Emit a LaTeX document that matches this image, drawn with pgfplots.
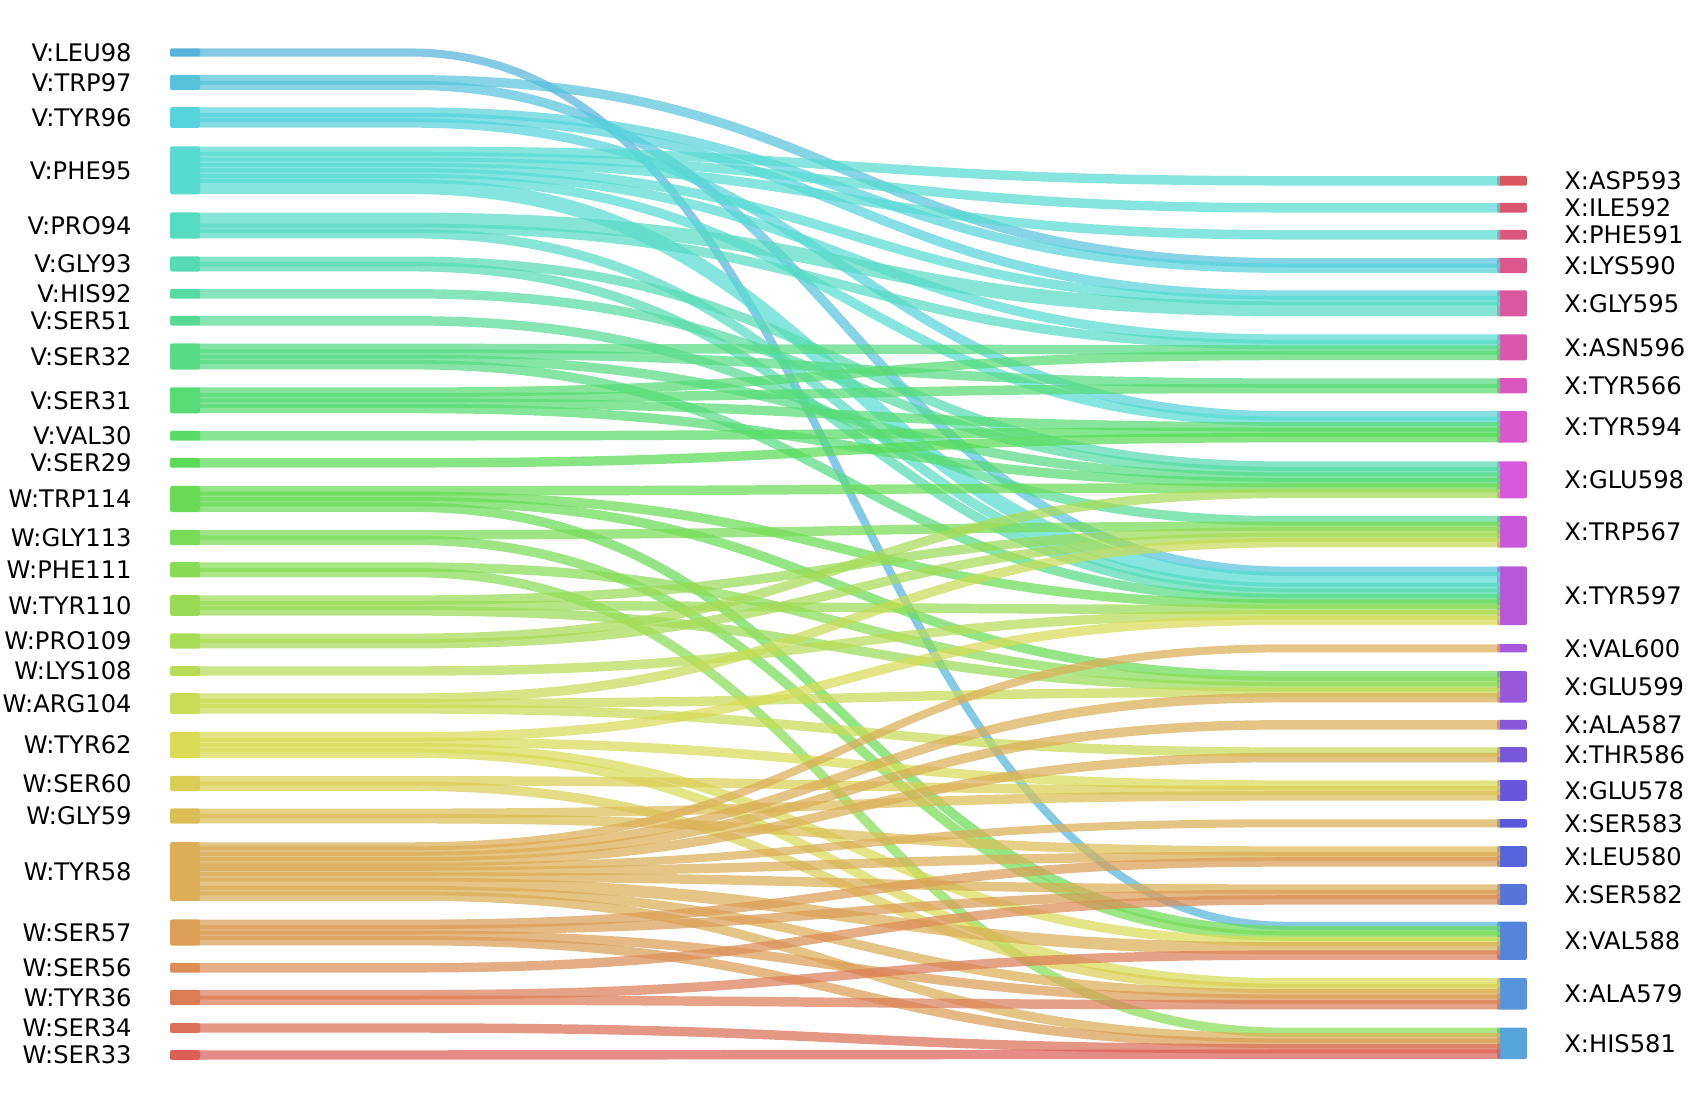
\documentclass[border=0pt]{standalone}
\usepackage{pgfplots}
\pgfplotsset{compat=1.18}
\usepackage{pgfplotstable}
\usepackage{fontspec}
\setmainfont{DejaVu Sans}

% hls palette (l=.6, s=.65) over the 50 residues, as hsb
\pgfplotsforeachungrouped \i in {0,...,49}{%
  \pgfmathsetmacro\hue{(3.6+7.2*\i)/360}%
  \edef\tmp{\noexpand\definecolor{pal\i}{hsb}{\hue,0.6047,0.86}}\tmp}

\newcommand\lbl{\fontsize{12.1}{14}\selectfont}
\def\upx{5.45}% px per unit of flow

% left column: id, label, centre (px from top)
\pgfplotstableread{
id name y
1 V:LEU98 52.5
2 V:TRP97 82.5
3 V:TYR96 117.5
4 V:PHE95 170.3
5 V:PRO94 225.5
6 V:GLY93 264
7 V:HIS92 293.8
8 V:SER51 320.8
9 V:SER32 356.5
10 V:SER31 400.3
11 V:VAL30 435.8
12 V:SER29 462.8
13 W:TRP114 499
14 W:GLY113 537.5
15 W:PHE111 569.8
16 W:TYR110 605.5
17 W:PRO109 641
18 W:LYS108 671
19 W:ARG104 703.5
20 W:TYR62 745
21 W:SER60 783.5
22 W:GLY59 816
23 W:TYR58 871.5
24 W:SER57 932.5
25 W:SER56 967.8
26 W:TYR36 997.5
27 W:SER34 1028
28 W:SER33 1055
}\leftnodes

% right column
\pgfplotstableread{
id name y
1 X:ASP593 180.8
2 X:ILE592 207.8
3 X:PHE591 234.8
4 X:LYS590 265.5
5 X:GLY595 303.3
6 X:ASN596 347.3
7 X:TYR566 385.8
8 X:TYR594 426.8
9 X:GLU598 479.8
10 X:TRP567 531.8
11 X:TYR597 595.8
12 X:VAL600 648.3
13 X:GLU599 686.8
14 X:ALA587 724.8
15 X:THR586 754.8
16 X:GLU578 790.5
17 X:SER583 823.3
18 X:LEU580 856.5
19 X:SER582 894.5
20 X:VAL588 940.8
21 X:ALA579 993.8
22 X:HIS581 1043.3
}\rightnodes

% links: source id, target id, value (sorted by source, then target)
\pgfplotstableread{
s t v
1 20 0.75
2 4 1
2 11 1
3 4 1
3 5 1
3 8 1
4 1 1
4 2 1
4 3 1
4 5 1
4 6 1
4 8 1
4 11 2
5 5 2
5 6 1
5 11 1
6 9 1
6 11 1
7 9 1
8 10 1
9 6 1
9 7 1
9 9 1
9 11 1
10 6 1
10 7 1
10 8 1
10 9 1
11 8 1
12 8 1
13 9 1
13 11 1
13 13 1
13 20 1
14 10 1
14 20 1
15 13 1
15 22 1
16 10 1
16 11 1
16 13 1
17 9 1
17 10 1
18 11 1
19 10 1
19 13 1
19 15 1
20 11 1
20 16 1
20 20 1
20 21 1
21 16 1
21 21 1
22 16 1
22 18 1
23 12 0.75
23 13 1
23 14 1
23 15 1
23 17 0.75
23 18 1
23 19 1
23 20 1.5
23 21 1
23 22 1
24 18 1
24 19 1
24 21 1
24 22 1
25 19 1
26 20 1
26 21 1
27 22 1
28 22 1
}\links

\begin{document}
\begin{tikzpicture}
% node totals
\pgfplotstablegetrowsof{\links}
\pgfmathtruncatemacro\lastlink{\pgfplotsretval-1}
\foreach \i in {1,...,28}{\expandafter\xdef\csname sumL\i\endcsname{0}}
\foreach \i in {1,...,22}{\expandafter\xdef\csname sumR\i\endcsname{0}}
\foreach \k in {0,...,\lastlink}{
  \pgfplotstablegetelem{\k}{s}\of\links \edef\ls{\pgfplotsretval}
  \pgfplotstablegetelem{\k}{t}\of\links \edef\lt{\pgfplotsretval}
  \pgfplotstablegetelem{\k}{v}\of\links \edef\lv{\pgfplotsretval}
  \edef\osum{\csname sumL\ls\endcsname}
  \pgfmathsetmacro\nsum{\osum+\lv}
  \expandafter\xdef\csname sumL\ls\endcsname{\nsum}
  \edef\osum{\csname sumR\lt\endcsname}
  \pgfmathsetmacro\nsum{\osum+\lv}
  \expandafter\xdef\csname sumR\lt\endcsname{\nsum}
}
% stacking cursors start at node tops
\foreach \r in {0,...,27}{
  \pgfplotstablegetelem{\r}{id}\of\leftnodes \edef\nid{\pgfplotsretval}
  \pgfplotstablegetelem{\r}{y}\of\leftnodes \edef\ny{\pgfplotsretval}
  \edef\nh{\csname sumL\nid\endcsname}
  \pgfmathsetmacro\ntop{\ny-\nh*\upx/2}
  \expandafter\xdef\csname curL\nid\endcsname{\ntop}
}
\foreach \r in {0,...,21}{
  \pgfplotstablegetelem{\r}{id}\of\rightnodes \edef\nid{\pgfplotsretval}
  \pgfplotstablegetelem{\r}{y}\of\rightnodes \edef\ny{\pgfplotsretval}
  \edef\nh{\csname sumR\nid\endcsname}
  \pgfmathsetmacro\ntop{\ny-\nh*\upx/2}
  \expandafter\xdef\csname curR\nid\endcsname{\ntop}
}

\begin{axis}[name=ax, width=844pt, height=554pt, scale only axis,
  hide axis, clip=false, xmin=0, xmax=1688, ymin=0, ymax=1108, y dir=reverse]

% left bars and labels
\foreach \r in {0,...,27}{
  \pgfplotstablegetelem{\r}{id}\of\leftnodes \edef\nid{\pgfplotsretval}
  \pgfplotstablegetelem{\r}{name}\of\leftnodes \edef\nname{\pgfplotsretval}
  \pgfplotstablegetelem{\r}{y}\of\leftnodes \edef\ny{\pgfplotsretval}
  \edef\nh{\csname sumL\nid\endcsname}
  \pgfmathsetmacro\ya{\ny-\nh*\upx/2-2.15}
  \pgfmathsetmacro\yb{\ny+\nh*\upx/2+2.15}
  \pgfmathtruncatemacro\ci{28-\nid}
  \edef\tmp{\noexpand\fill[pal\ci, rounded corners=1pt] (axis cs:170,\ya) rectangle (axis cs:200,\yb);
    \noexpand\node[anchor=east, inner sep=0pt, font=\noexpand\lbl] at (axis cs:132,\ny) {\nname};}
  \tmp
}
% right bars and labels
\foreach \r in {0,...,21}{
  \pgfplotstablegetelem{\r}{id}\of\rightnodes \edef\nid{\pgfplotsretval}
  \pgfplotstablegetelem{\r}{name}\of\rightnodes \edef\nname{\pgfplotsretval}
  \pgfplotstablegetelem{\r}{y}\of\rightnodes \edef\ny{\pgfplotsretval}
  \edef\nh{\csname sumR\nid\endcsname}
  \pgfmathsetmacro\ya{\ny-\nh*\upx/2-2.15}
  \pgfmathsetmacro\yb{\ny+\nh*\upx/2+2.15}
  \pgfmathtruncatemacro\ci{50-\nid}
  \edef\tmp{\noexpand\fill[pal\ci, rounded corners=1pt] (axis cs:1497,\ya) rectangle (axis cs:1527,\yb);
    \noexpand\node[anchor=west, inner sep=0pt, font=\noexpand\lbl] at (axis cs:1564,\ny) {\nname};}
  \tmp
}
% links: stroke a bit wider than the flow so neighbours overlap
\foreach \k in {0,...,\lastlink}{
  \pgfplotstablegetelem{\k}{s}\of\links \edef\ls{\pgfplotsretval}
  \pgfplotstablegetelem{\k}{t}\of\links \edef\lt{\pgfplotsretval}
  \pgfplotstablegetelem{\k}{v}\of\links \edef\lv{\pgfplotsretval}
  \edef\ya{\csname curL\ls\endcsname}
  \edef\yb{\csname curR\lt\endcsname}
  \pgfmathsetmacro\ma{\ya+\lv*\upx/2}
  \pgfmathsetmacro\mb{\yb+\lv*\upx/2}
  \pgfmathsetmacro\ea{\ya+\lv*\upx}
  \pgfmathsetmacro\eb{\yb+\lv*\upx}
  \expandafter\xdef\csname curL\ls\endcsname{\ea}
  \expandafter\xdef\csname curR\lt\endcsname{\eb}
  \pgfmathsetmacro\lw{(\lv*\upx+4)*0.5}
  \pgfmathtruncatemacro\ci{28-\ls}
  \edef\tmp{\noexpand\draw[pal\ci, draw opacity=0.72, line width={\lw pt}]
    (axis cs:198,\ma) -- (axis cs:410,\ma)
    .. controls (axis cs:848,\ma) and (axis cs:848,\mb) .. (axis cs:1287,\mb)
    -- (axis cs:1500,\mb);}
  \tmp
}
\end{axis}
\pgfresetboundingbox
\path (ax.south west) rectangle (ax.north east);
\end{tikzpicture}
\end{document}
